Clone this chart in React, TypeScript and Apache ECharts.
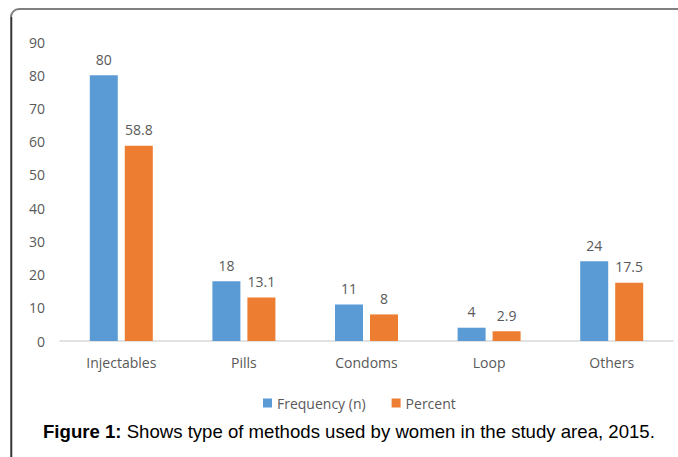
import React, { useEffect, useRef } from "react";
import * as echarts from "echarts";

const categories = ["Injectables", "Pills", "Condoms", "Loop", "Others"];
const frequency = [80, 18, 11, 4, 24];
const percent = [58.8, 13.1, 8, 2.9, 17.5];
const seriesNames = ["Frequency (n)", "Percent"];

const FONT = "'Open Sans', 'Noto Sans', sans-serif";
const ARIAL = "'Liberation Sans', Arial, sans-serif";

export default function App() {
  const ref = useRef<HTMLDivElement>(null);
  useEffect(() => {
    if (!ref.current) return;
    const chart = echarts.init(ref.current, undefined, { renderer: "svg" });
    const labelStyle = {
      show: true,
      position: "top" as const,
      distance: 9,
      color: "#595959",
      fontSize: 14,
      fontFamily: FONT,
    };
    chart.setOption({
      animation: false,
      backgroundColor: "#ffffff",
      grid: { left: 60, right: 5, top: 42, height: 299, containLabel: false },
      legend: {
        data: seriesNames,
        left: 258,
        top: 391,
        itemWidth: 9,
        itemHeight: 9,
        itemGap: 26,
        icon: "rect",
        textStyle: { color: "#595959", fontSize: 14, fontFamily: FONT },
      },
      xAxis: {
        type: "category",
        data: categories,
        axisLine: { show: true, lineStyle: { color: "#d9d9d9", width: 1.5 } },
        axisTick: { show: false },
        axisLabel: { color: "#595959", fontSize: 14, fontFamily: FONT, margin: 14 },
      },
      yAxis: {
        type: "value",
        min: 0,
        max: 90,
        interval: 10,
        splitLine: { show: false },
        axisLine: { show: false },
        axisTick: { show: false },
        axisLabel: { color: "#595959", fontSize: 14, fontFamily: FONT, margin: 15 },
      },
      series: [
        {
          name: seriesNames[0],
          type: "bar",
          data: frequency,
          barWidth: 28,
          barGap: "25%",
          itemStyle: { color: "#5B9BD5" },
          label: labelStyle,
        },
        {
          name: seriesNames[1],
          type: "bar",
          data: percent,
          barWidth: 28,
          itemStyle: { color: "#ED7D31" },
          label: labelStyle,
        },
      ],
      graphic: [
        {
          type: "rect",
          shape: { x: 11, y: 9, width: 700, height: 480, r: 8 },
          style: { fill: "none", stroke: "#808080", lineWidth: 2 },
          z: 100,
        },
        {
          type: "line",
          shape: { x1: 11.5, y1: 17, x2: 11.5, y2: 460 },
          style: { stroke: "#333333", lineWidth: 1.5 },
          z: 101,
        },
        {
          type: "text",
          left: 43,
          top: 422,
          style: {
            rich: {
              b: { fontWeight: "bold", fontSize: 18.6, fontFamily: ARIAL, fill: "#000" },
              n: { fontSize: 18.6, fontFamily: ARIAL, fill: "#000" },
            },
            text: "{b|Figure 1:}{n| Shows type of methods used by women in the study area, 2015.}",
          },
        },
      ],
    });
    return () => chart.dispose();
  }, []);
  return (
    <div
      ref={ref}
      style={{ position: "fixed", left: 0, top: 0, width: 678, height: 457, background: "#fff" }}
    />
  );
}
